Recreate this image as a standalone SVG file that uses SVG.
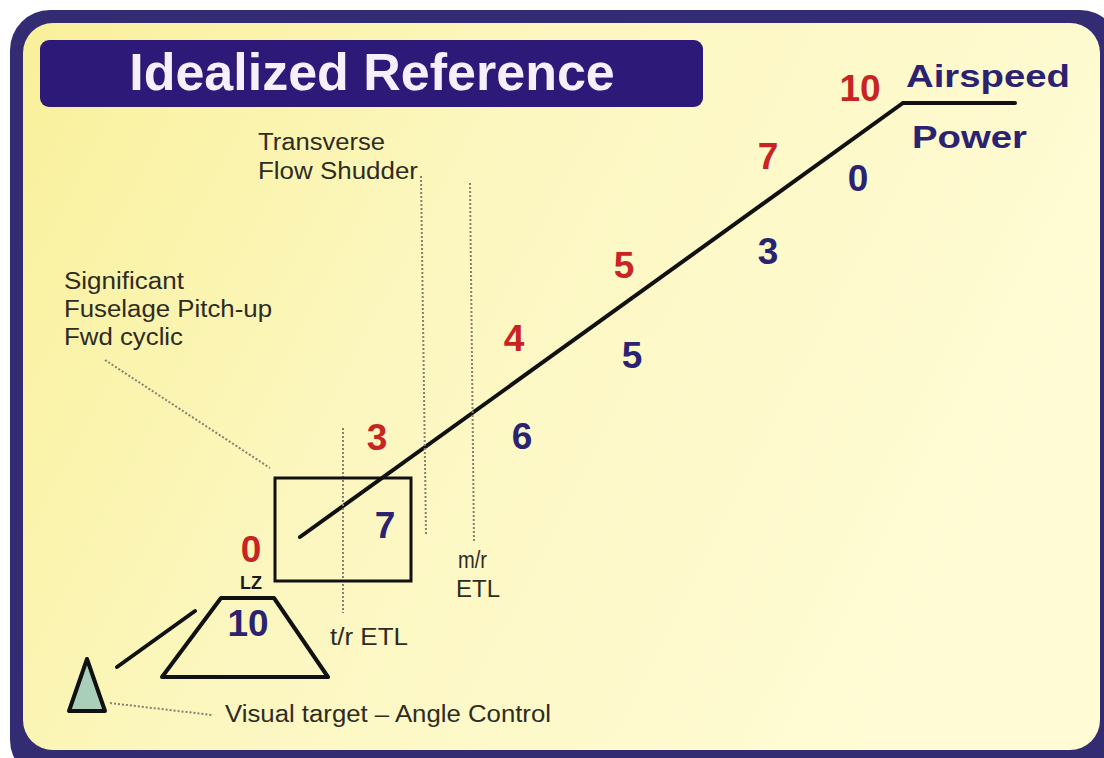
<svg xmlns="http://www.w3.org/2000/svg" width="1104" height="758" viewBox="0 0 1104 758">
<defs>
<linearGradient id="bg" x1="0" y1="0" x2="1" y2="0.35">
<stop offset="0" stop-color="#f9f09a"/>
<stop offset="0.45" stop-color="#fcf7c0"/>
<stop offset="1" stop-color="#fffbd4"/>
</linearGradient>
<style>
.lbl{font-family:"Liberation Sans",Arial,sans-serif;font-size:23px;fill:#2e2c22}
.num{font-family:"Liberation Sans",Arial,sans-serif;font-size:37px;font-weight:bold;text-anchor:middle}
.red{fill:#c92424}
.blue{fill:#2b2272}
.hdr{font-family:"Liberation Sans",Arial,sans-serif;font-size:32px;font-weight:bold;fill:#2b2272}
.solid{stroke:#111;stroke-width:4;fill:none;stroke-linecap:round}
.dot{stroke:#858070;stroke-width:2;stroke-dasharray:2 2;fill:none}
</style>
</defs>
<g id="frame">
<rect x="10" y="10" width="1110" height="770" rx="40" fill="#332c72"/>
<rect x="23" y="23" width="1077" height="727" rx="30" fill="url(#bg)"/>
</g>
<g id="title">
<rect x="40" y="40" width="663" height="67" rx="9" fill="#2d1a78"/>
<text x="372" y="90" text-anchor="middle" font-family="Liberation Sans, Arial, sans-serif" font-size="52" font-weight="bold" fill="#f6f0fc">Idealized Reference</text>
</g>
<g id="connectors">
<polyline class="solid" points="300,537 903,103 1015,103"/>
<line class="solid" x1="117" y1="667" x2="195" y2="611"/>
<line class="dot" x1="105" y1="360" x2="270" y2="468"/>
<line class="dot" x1="110" y1="703" x2="212" y2="715"/>
<line class="dot" x1="343" y1="428" x2="343" y2="613"/>
<line class="dot" x1="421" y1="176" x2="426" y2="534"/>
<line class="dot" x1="470" y1="183" x2="474" y2="542"/>
</g>
<g id="box">
<rect x="275" y="478" width="136" height="103" fill="none" stroke="#111" stroke-width="3"/>
</g>
<g id="lz">
<polygon points="221,598 274,598 328,677 162,677" fill="none" stroke="#111" stroke-width="4" stroke-linejoin="round"/>
<text x="251" y="589" font-family="Liberation Sans, Arial, sans-serif" font-size="19" font-weight="bold" fill="#1a1a1a" text-anchor="middle" textLength="22" lengthAdjust="spacingAndGlyphs">LZ</text>
</g>
<g id="target">
<polygon points="87,659 69,711 105,711" fill="#a9ceb9" stroke="#111" stroke-width="4" stroke-linejoin="round"/>
</g>
<g id="labels">
<text class="lbl" x="258" y="150" textLength="127" lengthAdjust="spacingAndGlyphs">Transverse</text>
<text class="lbl" x="258" y="179" textLength="160" lengthAdjust="spacingAndGlyphs">Flow Shudder</text>
<text class="lbl" x="64" y="289" textLength="120" lengthAdjust="spacingAndGlyphs">Significant</text>
<text class="lbl" x="64" y="317" textLength="208" lengthAdjust="spacingAndGlyphs">Fuselage Pitch-up</text>
<text class="lbl" x="64" y="345" textLength="119" lengthAdjust="spacingAndGlyphs">Fwd cyclic</text>
<text class="lbl" x="458" y="568" textLength="29" lengthAdjust="spacingAndGlyphs">m/r</text>
<text class="lbl" x="456" y="597" textLength="44" lengthAdjust="spacingAndGlyphs">ETL</text>
<text class="lbl" x="330" y="645" textLength="78" lengthAdjust="spacingAndGlyphs">t/r ETL</text>
<text class="lbl" x="225" y="722" textLength="326" lengthAdjust="spacingAndGlyphs">Visual target – Angle Control</text>
<text class="hdr" x="906" y="87" textLength="164" lengthAdjust="spacingAndGlyphs">Airspeed</text>
<text class="hdr" x="912" y="148" textLength="115" lengthAdjust="spacingAndGlyphs">Power</text>
</g>
<g id="airspeed-values">
<text class="num red" x="251" y="562">0</text>
<text class="num red" x="377" y="450">3</text>
<text class="num red" x="514" y="351">4</text>
<text class="num red" x="624" y="278">5</text>
<text class="num red" x="768" y="169">7</text>
<text class="num red" x="860" y="101">10</text>
</g>
<g id="power-values">
<text class="num blue" x="248" y="636">10</text>
<text class="num blue" x="385" y="538">7</text>
<text class="num blue" x="522" y="449">6</text>
<text class="num blue" x="632" y="368">5</text>
<text class="num blue" x="768" y="264">3</text>
<text class="num blue" x="858" y="191">0</text>
</g>
</svg>
